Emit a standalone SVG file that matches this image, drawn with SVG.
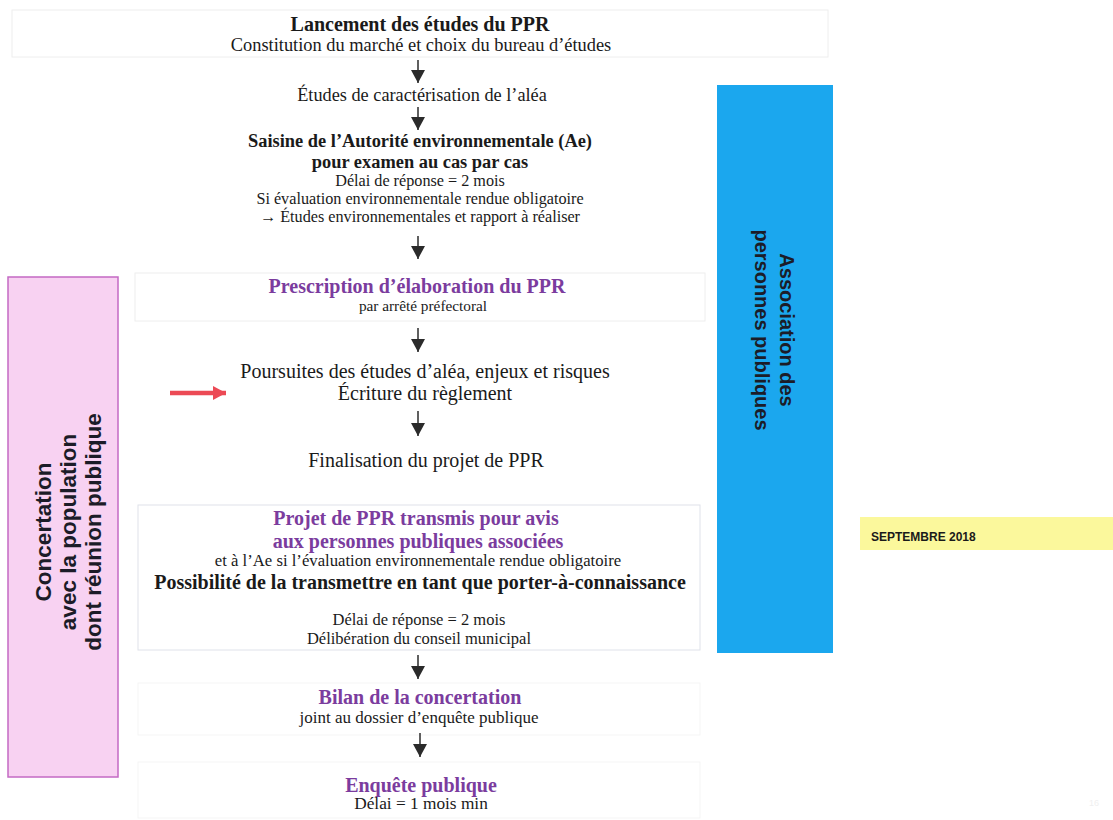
<svg xmlns="http://www.w3.org/2000/svg" width="1113" height="820" viewBox="0 0 1113 820">
<style>
.t{font-family:"Liberation Serif","Times New Roman",serif;text-anchor:middle;fill:#1a1a1a}
.b{font-weight:bold}
.p{fill:#7b3c9e;font-weight:bold}
.frame{fill:none;stroke:#eeeeee;stroke-width:1}
.side{font-family:"Liberation Sans",Arial,sans-serif;font-weight:bold;font-size:22.5px;text-anchor:middle;fill:#1c1c28}
.blue{font-size:20px}
.conn line{stroke:#2b2b2b;stroke-width:1.5;marker-end:url(#ah)}
</style>
<defs>
<marker id="ah" viewBox="0 0 13 14" refX="13" refY="7" markerWidth="13" markerHeight="14" markerUnits="userSpaceOnUse" orient="auto">
<path d="M0,0 L13,7 L0,14 Z" fill="#2b2b2b"/>
</marker>
<marker id="rh" viewBox="0 0 13 14" refX="13" refY="7" markerWidth="13" markerHeight="14" markerUnits="userSpaceOnUse" orient="auto">
<path d="M0,0 L13,7 L0,14 Z" fill="#ec4a55"/>
</marker>
</defs>
<rect width="1113" height="820" fill="#ffffff"/>

<g id="frames">
<rect class="frame" x="12" y="10" width="816" height="47"/>
<rect class="frame" x="135" y="273" width="570" height="48"/>
<rect class="frame" x="138" y="505" width="562" height="145" style="stroke:#dfe2ea"/>
<rect class="frame" x="138" y="683" width="562" height="52" style="stroke:#f5f5f5"/>
<rect class="frame" x="138" y="762" width="562" height="56" style="stroke:#f5f5f5"/>
</g>

<g id="n1">
<text class="t b" x="420" y="31" font-size="20">Lancement des études du PPR</text>
<text class="t" x="421" y="51" font-size="18.4">Constitution du marché et choix du bureau d’études</text>
</g>
<g id="n2">
<text class="t" x="422" y="101" font-size="18.3">Études de caractérisation de l’aléa</text>
</g>
<g id="n3">
<text class="t b" x="420" y="147" font-size="18.4">Saisine de l’Autorité environnementale (Ae)</text>
<text class="t b" x="420" y="168" font-size="18.4">pour examen au cas par cas</text>
<text class="t" x="420" y="186" font-size="16.2">Délai de réponse = 2 mois</text>
<text class="t" x="420" y="204" font-size="16.2">Si évaluation environnementale rendue obligatoire</text>
<text class="t" x="420" y="222" font-size="16.2">→ Études environnementales et rapport à réaliser</text>
</g>
<g id="n4">
<text class="t p" x="417" y="293" font-size="20">Prescription d’élaboration du PPR</text>
<text class="t" x="423" y="311" font-size="15.3">par arrêté préfectoral</text>
</g>
<g id="n5">
<text class="t" x="425" y="378" font-size="20">Poursuites des études d’aléa, enjeux et risques</text>
<text class="t" x="425" y="400" font-size="20">Écriture du règlement</text>
</g>
<g id="n6">
<text class="t" x="426" y="467" font-size="20">Finalisation du projet de PPR</text>
</g>
<g id="n7">
<text class="t p" x="416" y="525" font-size="20">Projet de PPR transmis pour avis</text>
<text class="t p" x="418" y="548" font-size="20">aux personnes publiques associées</text>
<text class="t" x="418" y="566" font-size="16.7">et à l’Ae si l’évaluation environnementale rendue obligatoire</text>
<text class="t b" x="420" y="589" font-size="20">Possibilité de la transmettre en tant que porter-à-connaissance</text>
<text class="t" x="419" y="625" font-size="16.5">Délai de réponse = 2 mois</text>
<text class="t" x="419" y="644" font-size="16.5">Délibération du conseil municipal</text>
</g>
<g id="n8">
<text class="t p" x="420" y="704" font-size="20">Bilan de la concertation</text>
<text class="t" x="419" y="723" font-size="17">joint au dossier d’enquête publique</text>
</g>
<g id="n9">
<text class="t p" x="421" y="792" font-size="20">Enquête publique</text>
<text class="t" x="421" y="809" font-size="17.3">Délai = 1 mois min</text>
</g>

<g id="concertation">
<rect x="8" y="277" width="110" height="500" fill="#f8d2f2" stroke="#c46ac4" stroke-width="1.5"/>
<g transform="translate(0 532) rotate(-90)">
<text class="side" x="0" y="51">Concertation</text>
<text class="side" x="0" y="76">avec la population</text>
<text class="side" x="0" y="101">dont réunion publique</text>
</g>
</g>

<g id="association">
<rect x="717" y="85" width="116" height="568" fill="#1ba7ee"/>
<g transform="translate(0 330) rotate(90)">
<text class="side blue" x="0" y="-780">Association des</text>
<text class="side blue" x="0" y="-755">personnes publiques</text>
</g>
</g>

<g id="date">
<rect x="860" y="517" width="253" height="33" fill="#fbf89c"/>
<text x="871" y="541" style="font-family:'Liberation Sans',Arial,sans-serif;font-weight:bold;font-size:12px;fill:#1a1a1a">SEPTEMBRE 2018</text>
</g>

<g class="conn" id="connectors">
<line x1="418" y1="60" x2="418" y2="83"/>
<line x1="418" y1="107" x2="418" y2="130"/>
<line x1="418" y1="236" x2="418" y2="259"/>
<line x1="418" y1="328" x2="418" y2="352"/>
<line x1="418" y1="411" x2="418" y2="436"/>
<line x1="418" y1="655" x2="418" y2="679"/>
<line x1="420" y1="733" x2="420" y2="757"/>
<line x1="170" y1="393" x2="226" y2="393" style="stroke:#ec4a55;stroke-width:4.5;marker-end:url(#rh)"/>
</g>

<text x="1089" y="806" style="font-family:'Liberation Sans',Arial,sans-serif;font-size:9px;fill:#f0f0f0">16</text>
</svg>
